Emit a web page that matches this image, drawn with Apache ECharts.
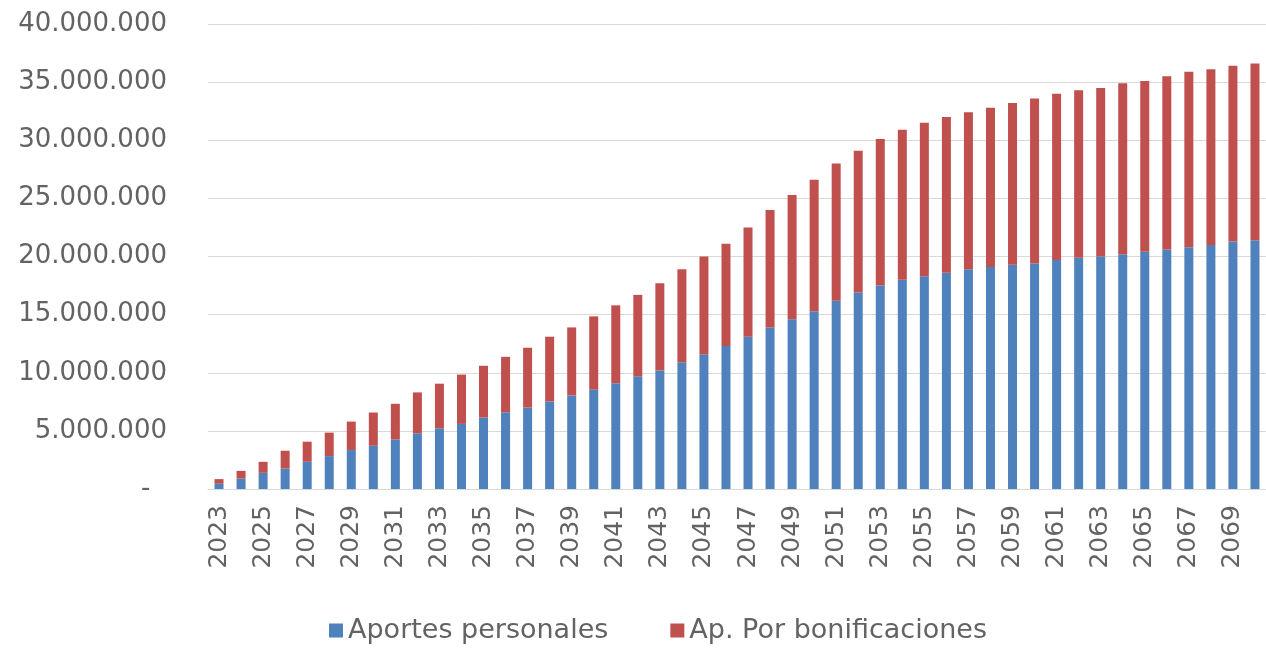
<!DOCTYPE html>
<html>
<head>
<meta charset="utf-8">
<title>Aportes</title>
<script src="https://cdn.jsdelivr.net/npm/echarts@6/dist/echarts.min.js"></script>
<style>
  html, body { margin: 0; padding: 0; background: #fff; }
  #chart { width: 1266px; height: 649px; }
</style>
</head>
<body>
<div id="chart"></div>
<script>
  // años 2023..2070
  var years = ['2023', '2024', '2025', '2026', '2027', '2028', '2029', '2030', '2031', '2032',
    '2033', '2034', '2035', '2036', '2037', '2038', '2039', '2040', '2041', '2042',
    '2043', '2044', '2045', '2046', '2047', '2048', '2049', '2050', '2051', '2052',
    '2053', '2054', '2055', '2056', '2057', '2058', '2059', '2060', '2061', '2062',
    '2063', '2064', '2065', '2066', '2067', '2068', '2069', '2070']

  var aportesPersonales = [450000, 900000, 1390000, 1760000, 2340000, 2830000, 3350000, 3720000, 4270000, 4790000,
    5220000, 5600000, 6150000, 6600000, 7000000, 7530000, 8050000, 8550000, 9100000, 9700000,
    10200000, 10900000, 11600000, 12300000, 13100000, 13900000, 14600000, 15300000, 16200000, 16900000,
    17500000, 18000000, 18300000, 18600000, 18900000, 19100000, 19300000, 19400000, 19700000, 19900000,
    20000000, 20200000, 20400000, 20600000, 20800000, 21000000, 21300000, 21400000]

  var bonificaciones = [400000, 660000, 950000, 1530000, 1730000, 2020000, 2450000, 2860000, 3060000, 3520000,
    3840000, 4240000, 4450000, 4770000, 5150000, 5570000, 5850000, 6300000, 6700000, 7000000,
    7500000, 8000000, 8400000, 8800000, 9400000, 10100000, 10700000, 11300000, 11800000, 12200000,
    12600000, 12900000, 13200000, 13400000, 13500000, 13700000, 13900000, 14200000, 14300000, 14400000,
    14500000, 14700000, 14700000, 14900000, 15100000, 15100000, 15100000, 15200000]

  var seriesNames = ['Aportes personales', 'Ap. Por bonificaciones']

  function miles (v) {
    if (v === 0) return '-  '
    return String(v).replace(/\B(?=(\d{3})+(?!\d))/g, '.')
  }

  var myChart = echarts.init(document.getElementById('chart'))
  var fontFam = '"DejaVu Sans", sans-serif'
  var txtColor = '#636363'

  myChart.setOption({
    animation: false,
    color: ['#4f81bd', '#c0504d'],
    textStyle: { fontFamily: fontFam },
    grid: {
      left: 208,
      right: -8,
      top: 24,
      bottom: 160,
      containLabel: false
    },
    legend: {
      bottom: 0,
      left: 324,
      icon: 'rect',
      itemWidth: 14,
      itemHeight: 14,
      itemGap: 62,
      textStyle: { fontSize: 27, color: txtColor, fontFamily: fontFam },
      data: seriesNames
    },
    xAxis: {
      type: 'category',
      data: years,
      axisLine: { lineStyle: { color: '#d9d9d9' } },
      axisTick: { show: false },
      axisLabel: {
        rotate: 90,
        interval: 1,
        margin: 16,
        fontSize: 25,
        color: txtColor
      }
    },
    yAxis: {
      type: 'value',
      min: 0,
      max: 40000000,
      interval: 5000000,
      axisLine: { show: false },
      axisTick: { show: false },
      splitLine: { lineStyle: { color: '#d9d9d9', width: 1 } },
      axisLabel: {
        margin: 41,
        fontSize: 26,
        color: txtColor,
        formatter: miles
      }
    },
    series: [{
      name: seriesNames[0],
      type: 'bar',
      stack: 'total',
      barWidth: 9,
      data: aportesPersonales
    }, {
      name: seriesNames[1],
      type: 'bar',
      stack: 'total',
      barWidth: 9,
      data: bonificaciones
    }]
  })
</script>
</body>
</html>
